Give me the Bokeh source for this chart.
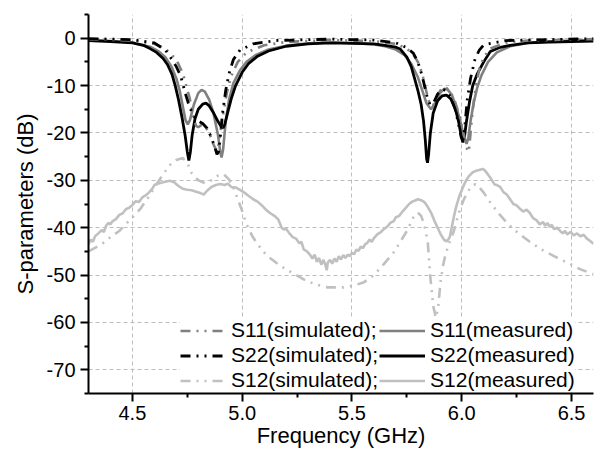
from bokeh.plotting import figure
from bokeh.models import (FixedTicker, NumeralTickFormatter, Legend, LegendItem, Range1d)
from bokeh.embed import file_html
from bokeh.resources import INLINE

FONT = "Liberation Sans"

# ---------------- data ----------------
s11_meas_f = [4.30, 4.40, 4.50, 4.58, 4.62, 4.65, 4.68, 4.70, 4.715, 4.73, 4.742, 4.752, 4.762, 4.78,
              4.80, 4.815, 4.83, 4.85, 4.87, 4.89, 4.90, 4.906, 4.913, 4.925, 4.94, 4.96, 4.99, 5.02,
              5.06, 5.12, 5.20, 5.30, 5.40, 5.50, 5.60, 5.65, 5.70, 5.74, 5.77, 5.80, 5.82, 5.84,
              5.86, 5.88, 5.90, 5.92, 5.935, 5.955, 5.975, 5.995, 6.01, 6.022, 6.03, 6.04, 6.055,
              6.07, 6.09, 6.12, 6.16, 6.22, 6.30, 6.40, 6.50, 6.60]
s11_meas_db = [-0.4, -0.6, -0.9, -1.8, -2.8, -4.0, -6.2, -8.5, -11.0, -14.5, -17.3, -18.2, -17.3, -14.0,
               -11.6, -10.9, -11.3, -13.0, -16.0, -20.5, -24.0, -25.2, -23.5, -17.5, -13.0, -9.5, -6.8, -5.0,
               -3.6, -2.4, -1.6, -1.1, -0.9, -1.0, -1.3, -1.7, -2.4, -3.6, -5.4, -8.2, -11.0, -13.8,
               -15.0, -13.6, -11.6, -10.7, -10.8, -12.0, -14.5, -17.8, -20.8, -22.3, -21.0, -17.5, -13.5,
               -10.5, -7.8, -5.0, -3.0, -1.7, -1.0, -0.7, -0.5, -0.4]

s22_meas_f = [4.30, 4.40, 4.50, 4.55, 4.58, 4.61, 4.64, 4.66, 4.68, 4.695, 4.71, 4.725, 4.74, 4.75,
              4.757, 4.764, 4.772, 4.785, 4.80, 4.82, 4.835, 4.85, 4.87, 4.89, 4.905, 4.913, 4.92,
              4.935, 4.95, 4.97, 5.00, 5.03, 5.07, 5.12, 5.20, 5.30, 5.40, 5.50, 5.60, 5.65, 5.70,
              5.72, 5.75, 5.77, 5.785, 5.80, 5.815, 5.826, 5.834, 5.840, 5.844, 5.849, 5.857, 5.87,
              5.89, 5.91, 5.93, 5.95, 5.97, 5.985, 5.997, 6.005, 6.012, 6.02, 6.035, 6.05, 6.07,
              6.10, 6.13, 6.17, 6.22, 6.30, 6.40, 6.50, 6.60]
s22_meas_db = [-0.5, -0.7, -1.0, -1.5, -2.2, -3.0, -4.3, -5.6, -7.6, -10.0, -13.0, -16.5, -20.5, -24.0,
               -25.8, -24.0, -20.5, -17.0, -15.0, -13.9, -13.7, -14.3, -15.8, -17.6, -18.7, -18.9, -18.3,
               -15.5, -12.8, -10.0, -7.2, -5.3, -3.8, -2.7, -1.7, -1.2, -1.0, -1.1, -1.2, -1.5, -1.9,
               -2.3, -4.0, -6.0, -8.5, -11.0, -14.0, -17.5, -21.5, -25.5, -26.3, -24.5, -20.0, -15.8,
               -13.2, -12.2, -12.0, -12.8, -14.8, -17.5, -20.5, -22.0, -21.0, -18.0, -13.5, -10.0, -7.6,
               -5.0, -2.8, -2.0, -1.5, -1.0, -0.8, -0.7, -0.6]

s11_sim_f = [4.30, 4.50, 4.60, 4.65, 4.70, 4.73, 4.76, 4.78, 4.79, 4.80, 4.815, 4.83, 4.85, 4.87,
             4.885, 4.895, 4.91, 4.93, 4.95, 4.98, 5.02, 5.10, 5.20, 5.40, 5.60, 5.70, 5.75, 5.78,
             5.80, 5.82, 5.84, 5.855, 5.87, 5.89, 5.91, 5.93, 5.95, 5.97, 5.99, 6.01, 6.025, 6.032,
             6.04, 6.05, 6.065, 6.08, 6.10, 6.13, 6.20, 6.30, 6.60]
s11_sim_db = [-0.2, -0.5, -1.2, -2.2, -4.5, -7.5, -12.5, -17.0, -18.5, -18.8, -18.3, -18.5, -20.0, -22.5,
              -24.0, -22.0, -17.0, -11.5, -8.0, -5.0, -3.0, -1.5, -0.8, -0.4, -0.6, -1.2, -2.2, -3.5,
              -5.0, -7.5, -11.5, -14.0, -14.2, -12.0, -10.5, -10.5, -11.5, -13.5, -16.5, -20.5, -23.5, -24.0,
              -20.0, -15.0, -10.0, -6.5, -4.0, -2.2, -1.0, -0.5, -0.2]

s22_sim_f = [4.30, 4.50, 4.60, 4.65, 4.68, 4.70, 4.72, 4.74, 4.76, 4.78, 4.80, 4.82, 4.84, 4.86,
             4.875, 4.885, 4.892, 4.90, 4.91, 4.925, 4.94, 4.96, 4.99, 5.05, 5.15, 5.40, 5.60, 5.70,
             5.75, 5.78, 5.80, 5.82, 5.84, 5.855, 5.87, 5.89, 5.91, 5.93, 5.95, 5.97, 5.985, 5.998,
             6.006, 6.015, 6.025, 6.04, 6.06, 6.08, 6.10, 6.20, 6.60]
s22_sim_db = [-0.1, -0.3, -1.0, -2.5, -4.5, -6.0, -8.0, -11.5, -14.5, -16.5, -17.5, -18.0, -19.0, -21.0,
              -23.0, -24.5, -24.0, -21.0, -16.0, -11.0, -7.5, -4.5, -2.5, -1.2, -0.5, -0.2, -0.4, -1.0,
              -2.0, -3.2, -5.0, -8.0, -12.0, -14.0, -13.8, -11.8, -10.8, -11.0, -12.5, -15.0, -18.0, -21.0,
              -21.5, -18.0, -13.0, -8.5, -4.5, -2.5, -1.4, -0.5, -0.1]

s12_meas_f = [4.30, 4.31, 4.32, 4.33, 4.345, 4.36, 4.37, 4.38, 4.39, 4.40, 4.41, 4.425, 4.44, 4.455,
              4.47, 4.485, 4.50, 4.515, 4.53, 4.545, 4.56, 4.575, 4.59, 4.60, 4.615, 4.63, 4.65, 4.67,
              4.69, 4.71, 4.73, 4.75, 4.77, 4.79, 4.81, 4.825, 4.84, 4.86, 4.88, 4.90, 4.92, 4.935,
              4.95, 4.97, 4.99, 5.01, 5.03, 5.05, 5.07, 5.09, 5.11, 5.13, 5.15, 5.165, 5.18, 5.19,
              5.20, 5.215, 5.23, 5.245, 5.26, 5.27, 5.28, 5.295, 5.31, 5.32, 5.33, 5.34, 5.35, 5.36,
              5.37, 5.38, 5.385, 5.39, 5.40, 5.41, 5.42, 5.43, 5.44, 5.45, 5.46, 5.47, 5.48, 5.49,
              5.50, 5.51, 5.52, 5.53, 5.54, 5.55, 5.56, 5.57, 5.58, 5.59, 5.60, 5.615, 5.63, 5.645,
              5.66, 5.675, 5.69, 5.70, 5.715, 5.73, 5.745, 5.76, 5.775, 5.79, 5.80, 5.815, 5.83, 5.845,
              5.86, 5.875, 5.89, 5.905, 5.92, 5.932, 5.945, 5.955, 5.965, 5.975, 5.99, 6.005, 6.02,
              6.035, 6.05, 6.065, 6.08, 6.095, 6.105, 6.12, 6.135, 6.15, 6.16, 6.175, 6.19, 6.205,
              6.22, 6.235, 6.25, 6.265, 6.28, 6.295, 6.31, 6.325, 6.34, 6.355, 6.37, 6.38, 6.39, 6.40,
              6.41, 6.42, 6.435, 6.45, 6.46, 6.47, 6.48, 6.495, 6.51, 6.525, 6.54, 6.555, 6.57, 6.585,
              6.60]
s12_meas_db = [-43.5, -42.5, -43.0, -41.8, -41.2, -40.5, -40.9, -39.6, -39.0, -39.3, -38.6, -38.2, -37.3, -37.0,
               -36.1, -35.8, -35.2, -34.4, -34.6, -33.6, -33.2, -32.6, -31.8, -31.0, -30.7, -30.5, -30.3, -30.1,
               -30.4, -31.2, -31.8, -32.0, -32.1, -32.4, -32.7, -33.0, -32.2, -31.4, -31.0, -30.8, -31.0, -30.7,
               -31.4, -31.5, -32.0, -32.6, -33.3, -34.0, -34.5, -35.3, -36.3, -37.0, -37.6, -38.3, -40.0, -40.4,
               -40.2, -41.2, -42.0, -42.3, -43.3, -43.0, -44.6, -45.0, -45.8, -46.5, -45.7, -47.2, -46.4, -47.8,
               -46.8, -48.0, -49.0, -47.3, -46.8, -47.6, -46.5, -47.2, -46.0, -46.7, -45.8, -46.4, -45.7, -46.0,
               -45.3, -45.6, -44.6, -44.9, -44.0, -44.3, -43.5, -43.2, -42.5, -43.0, -42.2, -41.4, -41.0, -40.3,
               -39.8, -39.0, -38.6, -37.8, -37.5, -36.6, -35.8, -35.0, -34.5, -34.2, -34.0, -34.2, -34.6, -35.6,
               -36.8, -38.5, -40.0, -41.5, -42.6, -42.9, -42.0, -39.8, -37.5, -35.5, -33.2, -31.5, -30.0,
               -29.0, -28.3, -28.0, -27.8, -27.6, -27.9, -28.8, -29.8, -30.9, -31.0, -31.4, -32.5, -33.0,
               -34.0, -35.0, -35.3, -36.0, -36.6, -36.2, -36.9, -38.0, -38.4, -39.3, -38.8, -39.6, -39.0, -39.8,
               -39.4, -40.3, -40.0, -40.8, -41.2, -40.7, -41.4, -40.9, -41.6, -41.2, -41.8, -41.5, -42.3, -42.8,
               -43.4]

s12_sim_f = [4.30, 4.36, 4.40, 4.44, 4.50, 4.535, 4.57, 4.61, 4.64, 4.67, 4.70, 4.73, 4.75, 4.77,
             4.80, 4.83, 4.86, 4.89, 4.915, 4.94, 4.96, 4.98, 5.00, 5.02, 5.045, 5.07, 5.11, 5.175,
             5.23, 5.28, 5.33, 5.39, 5.46, 5.51, 5.555, 5.60, 5.645, 5.69, 5.72, 5.75, 5.78, 5.80,
             5.815, 5.83, 5.845, 5.858, 5.87, 5.882, 5.892, 5.904, 5.915, 5.926, 5.945, 5.964, 5.98,
             5.995, 6.01, 6.025, 6.045, 6.063, 6.08, 6.10, 6.13, 6.17, 6.21, 6.253, 6.314, 6.374,
             6.42, 6.481, 6.541, 6.60]
s12_sim_db = [-45.0, -43.5, -42.0, -40.7, -37.8, -36.1, -33.8, -30.8, -28.7, -26.8, -25.7, -25.3, -26.3, -28.5,
              -30.0, -30.6, -30.0, -29.0, -28.7, -29.8, -31.5, -34.0, -36.5, -39.3, -41.7, -43.5, -45.8, -48.1,
              -49.6, -50.9, -51.9, -52.6, -52.6, -52.2, -51.5, -50.0, -47.7, -45.2, -43.0, -40.7, -37.8, -36.8,
              -37.5, -39.5, -43.0, -51.0, -56.5, -59.0, -57.0, -51.2, -48.0, -45.6, -43.0, -40.7, -38.0,
              -35.7, -34.0, -32.6, -31.2, -30.8, -31.5, -32.6, -34.7, -37.1, -39.2, -41.0, -43.1, -44.9,
              -46.0, -47.4, -48.8, -49.8]

x_ticks = [4.5, 5.0, 5.5, 6.0, 6.5]
x_minor = [4.75, 5.25, 5.75, 6.25]
y_ticks = [-70, -60, -50, -40, -30, -20, -10, 0]
y_minor = [-75, -65, -55, -45, -35, -25, -15, -5, 5]

# ---------------- figure ----------------
p = figure(width=598, height=456, output_backend="svg", toolbar_location=None,
           x_range=Range1d(4.3, 6.6), y_range=Range1d(-75, 5),
           min_border_left=88, min_border_right=5, min_border_top=14, min_border_bottom=63)
p.outline_line_color = None
p.background_fill_color = "white"

DASH = "10 6 2 6 2 6"
GRAY = "#808080"
LIGHT = "#c0c0c0"
BLACK = "#000000"

r12m = p.line(s12_meas_f, s12_meas_db, line_color=LIGHT, line_width=2.6)
r12s = p.line(s12_sim_f, s12_sim_db, line_color=LIGHT, line_width=2.6, line_dash=DASH)
r11m = p.line(s11_meas_f, s11_meas_db, line_color=GRAY, line_width=2.6)
r22m = p.line(s22_meas_f, s22_meas_db, line_color=BLACK, line_width=2.8)
r11s = p.line(s11_sim_f, s11_sim_db, line_color=GRAY, line_width=2.6, line_dash=DASH)
r22s = p.line(s22_sim_f, s22_sim_db, line_color=BLACK, line_width=2.8, line_dash=DASH)

# axes
for ax in (p.xaxis[0], p.yaxis[0]):
    ax.axis_line_width = 2
    ax.axis_line_color = "black"
    ax.major_tick_line_width = 2
    ax.minor_tick_line_width = 2
    ax.major_tick_line_color = "black"
    ax.minor_tick_line_color = "black"
    ax.major_tick_in = 0
    ax.major_tick_out = 8
    ax.minor_tick_in = 0
    ax.minor_tick_out = 4
    ax.major_label_text_font = FONT
    ax.major_label_text_font_size = "20px"
    ax.major_label_text_color = "black"
    ax.axis_label_text_font = FONT
    ax.axis_label_text_font_size = "22px"
    ax.axis_label_text_font_style = "normal"
    ax.axis_label_text_color = "black"

p.xaxis.ticker = FixedTicker(ticks=x_ticks, minor_ticks=x_minor)
p.yaxis.ticker = FixedTicker(ticks=y_ticks, minor_ticks=y_minor)
p.xaxis.formatter = NumeralTickFormatter(format="0.0")
p.yaxis.formatter = NumeralTickFormatter(format="0")
p.xaxis.axis_label = "Frequency (GHz)"
p.yaxis.axis_label = "S-parameters (dB)"
p.xaxis.major_label_standoff = 4
p.yaxis.major_label_standoff = 5
p.xaxis.axis_label_standoff = 0
p.yaxis.axis_label_standoff = 6

p.xgrid.grid_line_color = "#bdbdbd"
p.ygrid.grid_line_color = "#bdbdbd"
p.xgrid.grid_line_dash = "4 3"
p.ygrid.grid_line_dash = "4 3"
p.xgrid.grid_line_width = 1
p.ygrid.grid_line_width = 1

items = [
    LegendItem(label="S11(simulated);", renderers=[r11s]),
    LegendItem(label="S22(simulated);", renderers=[r22s]),
    LegendItem(label="S12(simulated);", renderers=[r12s]),
    LegendItem(label="S11(measured)", renderers=[r11m]),
    LegendItem(label="S22(measured)", renderers=[r22m]),
    LegendItem(label="S12(measured)", renderers=[r12m]),
]
legend = Legend(items=items, location=(92, 1), orientation="vertical", nrows=3, ncols=2,
                label_text_font=FONT, label_text_font_size="21px", label_text_color="black",
                glyph_width=46, glyph_height=21, label_height=21, label_standoff=5,
                spacing=1, padding=5, margin=0,
                border_line_color=None, background_fill_color="white", background_fill_alpha=1.0)
p.add_layout(legend, "center")

open("out.html", "w").write(file_html(p, INLINE))
